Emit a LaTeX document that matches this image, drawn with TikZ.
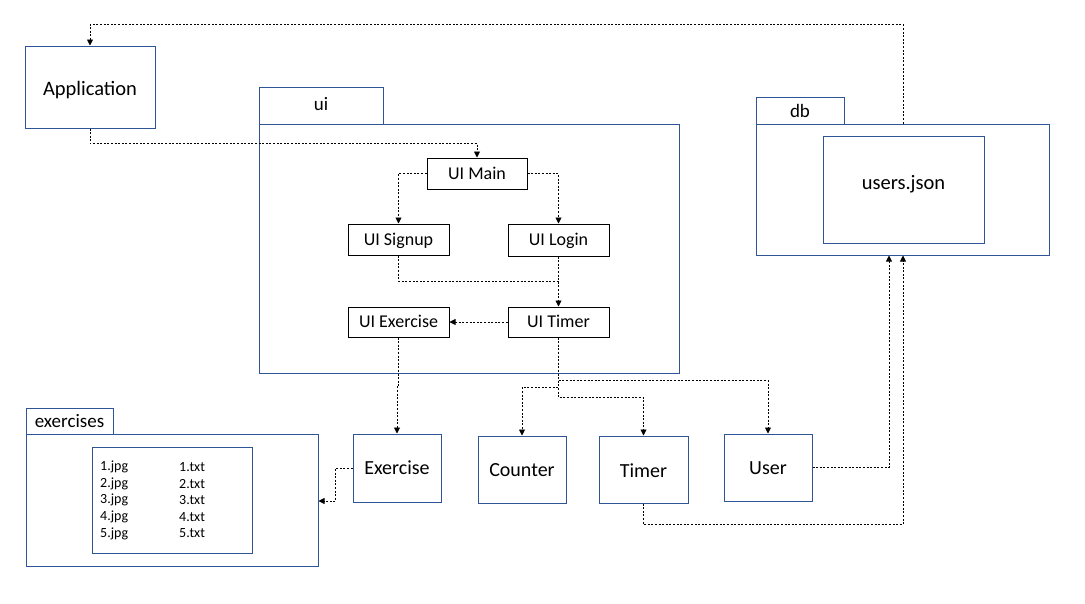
\documentclass[tikz,border=0pt]{standalone}
\usepackage{fontspec}
\setmainfont{Carlito}
\usetikzlibrary{arrows.meta,calc}
\definecolor{pblue}{RGB}{47,85,151}
\tikzset{
  pkg/.style={draw=pblue, line width=1pt, inner sep=0pt, text height=13pt, text depth=0pt, font=\fontsize{20}{24}\selectfont},
  tab/.style={draw=pblue, line width=1pt, inner sep=0pt, text height=12.4pt, text depth=0pt, font=\fontsize{19}{22}\selectfont},
  uibox/.style={draw=black, line width=1pt, inner sep=0pt, minimum width=101, text height=11.7pt, text depth=0pt, font=\fontsize{18}{22}\selectfont},
  conn/.style={black, line width=0.9pt, dash pattern=on 2pt off 1.6pt},
  arr/.style={conn, -{Triangle[length=6pt,width=6pt]}},
  fileitem/.style={inner sep=0pt, anchor=west, font=\fontsize{14}{16}\selectfont}
}
\begin{document}
\begin{tikzpicture}[x=1pt,y=-1pt]
\useasboundingbox (0,0) rectangle (1085,603);
% Application
\node[pkg, minimum width=130, minimum height=82, text height=13.3pt, font=\fontsize{20.5}{24}\selectfont] (app) at (90,87) {\raisebox{-2.3pt}{Application}};
% ui package
\node[tab, minimum width=124, minimum height=37] (uitab) at (321,106) {\raisebox{1.5pt}{ui}};
\node[pkg, minimum width=420, minimum height=249] (uibody) at (469,248.5) {};
\node[uibox, minimum width=100, minimum height=31] (uimain) at (477,173.5) {UI Main};
\node[uibox, minimum height=31] (signup) at (398.5,239.5) {UI Signup};
\node[uibox, minimum height=32] (login) at (558.5,240) {UI Login};
\node[uibox, minimum height=30] (uiex) at (398.5,322) {UI Exercise};
\node[uibox, minimum height=30] (uitimer) at (558.5,322) {UI Timer};
% db package
\node[tab, minimum width=88, minimum height=27] (dbtab) at (800,110.5) {\raisebox{-1pt}{db}};
\node[pkg, minimum width=293, minimum height=131] (dbbody) at (902.5,189.5) {};
\node[pkg, minimum width=161, minimum height=107, text height=13.3pt, font=\fontsize{20.5}{24}\selectfont] (users) at (903.5,189.5) {\raisebox{6.5pt}{users.json}};
% exercises package
\node[tab, minimum width=87, minimum height=26] (extab) at (69.5,421) {exercises};
\node[pkg, minimum width=292, minimum height=132] (exbody) at (172,500) {};
\node[pkg, minimum width=160, minimum height=106] (files) at (172,500) {};
\foreach \i in {1,...,5}{
  \node[fileitem] (jpg\i) at (100,{450.4+16.6*\i}) {\i.jpg};
  \node[fileitem] (txt\i) at (179,{450.4+16.6*\i}) {\i.txt};
}
% classes
\node[pkg, minimum width=88, minimum height=68] (exercise) at (397,468) {Exercise};
\node[pkg, minimum width=88, minimum height=67] (counter) at (522,469.5) {Counter};
\node[pkg, minimum width=89, minimum height=67] (timer) at (643.5,469.5) {\raisebox{-1pt}{Timer}};
\node[pkg, minimum width=88, minimum height=67] (user) at (768,467.5) {User};
% connectors
\draw[arr] (app.south) -- ++(0,15) -| (uimain.north);
\draw[arr] (uimain.west) -| (signup.north);
\draw[arr] (uimain.east) -| (login.north);
\coordinate (join) at (558.5,281);
\draw[conn] (signup.south) |- (join);
\draw[arr] (login.south) -- (uitimer.north);
\draw[arr] (uitimer.west) -- (uiex.east);
\draw[arr] (uiex.south) -- ++(0,48) -| (exercise.north);
\draw[arr] (uitimer.south) -- ++(0,43) -| (user.north);
\draw[arr] (uitimer.south) -- ++(0,50) -| (counter.north);
\draw[arr] (uitimer.south) -- ++(0,60) -| (timer.north);
\draw[arr] (user.east) -| ($(dbbody.south)+(-13.5,0)$);
\draw[arr] (timer.south) -- ++(0,21) -| ($(dbbody.south)+(0.5,0)$);
\draw[arr] ($(dbbody.north)+(0.5,0)$) -- ++(0,-99) -| (app.north);
\draw[arr] (exercise.west) -- ++(-17,0) |- ($(exbody.east)+(0,1)$);
\end{tikzpicture}
\end{document}
